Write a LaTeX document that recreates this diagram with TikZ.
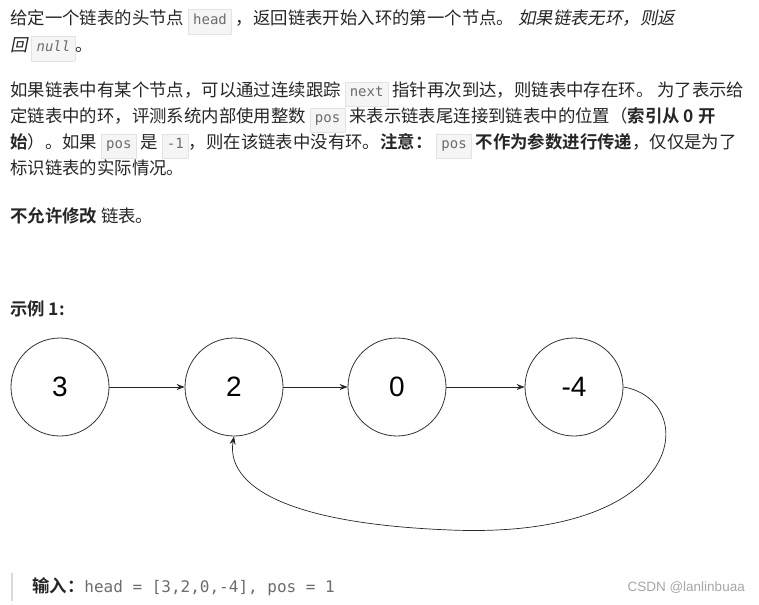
\documentclass[tikz,border=0pt]{standalone}
\usetikzlibrary{arrows.meta}
\usepackage{fontspec}
\setmainfont{Noto Sans CJK SC}[BoldFont={Noto Sans CJK SC Bold},ItalicFont={Noto Sans CJK SC},ItalicFeatures={FakeSlant=0.2}]
\newfontfamily\monof{DejaVu Sans Mono}
\newfontfamily\latf{Liberation Sans}
\definecolor{txt}{HTML}{262626}
\definecolor{cbg}{HTML}{F5F5F5}
\definecolor{cbd}{HTML}{E3E3E3}
\newcommand\cb[1]{{\setlength\fboxsep{4.5pt}\setlength\fboxrule{0.6pt}\fcolorbox{cbd}{cbg}{\color{gray!85!black}\monof\fontsize{14}{14}\selectfont\strut #1}}}
\begin{document}
\begin{tikzpicture}[x=1pt,y=-1pt,
  line/.style={anchor=base west,inner sep=0pt,text=txt,font=\fontsize{17.4}{20}\selectfont},
  circ/.style={circle,draw=black!80,line width=0.8pt,minimum size=98pt,font=\latf\fontsize{28}{28}\selectfont},
  arr/.style={-{Stealth[length=8pt,width=6pt]},line width=0.7pt,black!85}]
\useasboundingbox (0,0) rectangle (759,604);
\node[line] (l1) at (10,25) {给定一个链表的头节点 \cb{head} ，返回链表开始入环的第一个节点。 \textit{如果链表无环，则返}};
\node[line] (l2) at (10,52) {\textit{回} \cb{\itshape null}。};
\node[line] (l3) at (10,97) {如果链表中有某个节点，可以通过连续跟踪 \cb{next} 指针再次到达，则链表中存在环。 为了表示给};
\node[line] (l4) at (10,123) {定链表中的环，评测系统内部使用整数 \cb{pos} 来表示链表尾连接到链表中的位置（\textbf{索引从 0 开}};
\node[line] (l5) at (10,149) {\textbf{始}）。如果 \cb{pos} 是 \cb{-1}，则在该链表中没有环。\textbf{注意：} \cb{pos} \textbf{不作为参数进行传递}，仅仅是为了};
\node[line] (l6) at (10,175) {标识链表的实际情况。};
\node[line] (l7) at (10,222) {\textbf{不允许修改} 链表。};
\node[line] (l8) at (10,315) {\textbf{示例 1:}};
\node[circ] (a) at (60,387) {3};
\node[circ] (b) at (234,387) {2};
\node[circ] (c) at (397,387) {0};
\node[circ] (d) at (574,387) {-4};
\draw[arr] (a) -- (b);
\draw[arr] (b) -- (c);
\draw[arr] (c) -- (d);
\draw[arr] (d.east) .. controls (700,400) and (690,540) .. (450,530) .. controls (250,522) and (228,470) .. (b.south);
\draw[black!15,line width=1.2pt] (12,573) -- (12,601);
\node[line] (in) at (32,592) {\textbf{输入：}{\monof\color{gray!85!black}\fontsize{16}{18}\selectfont head = [3,2,0,-4], pos = 1}};
\node[anchor=base east,inner sep=0pt,text=gray!70,font=\latf\fontsize{13.5}{15}\selectfont] (wm) at (745,591) {CSDN @lanlinbuaa};
\end{tikzpicture}
\end{document}
